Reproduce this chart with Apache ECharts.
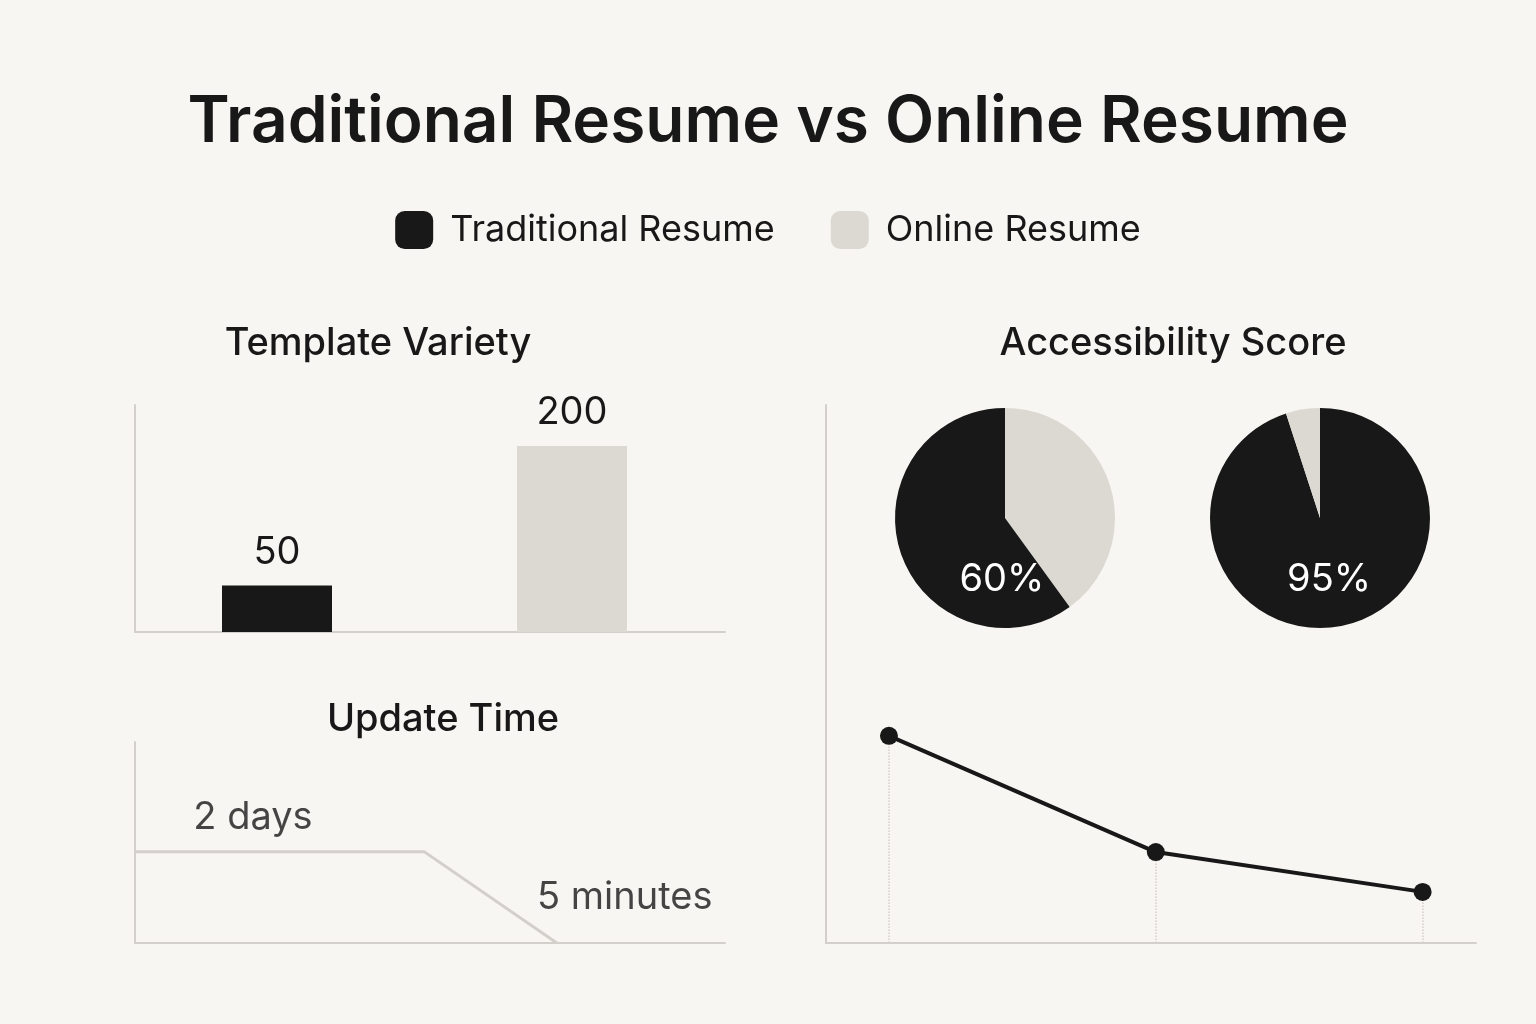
<!DOCTYPE html>
<html>
<head>
<meta charset="UTF-8">
<title>Traditional Resume vs Online Resume</title>
<script src="https://cdn.jsdelivr.net/npm/echarts@6/dist/echarts.min.js"></script>
<style>body{margin:0;background:#f8f6f2}</style>
</head>
<body>
<div id="main" style="width:1536px;height:1024px;"></div>
<script type="text/javascript">
var BLACK = '#181818', LIGHT = '#dcd9d3', AXIS = '#d3d0cb';
var FONT = 'Inter';

// data
var templateCats = ['Traditional Resume', 'Online Resume'];
var templateValues = [50, 200];
var updatePoints = [[0, 2], [49, 2], [71.5, 0]];
var updateLabels = ['2 days', '5 minutes'];
var updateLabelPos = [[20, 2.75], [83, 1]];
var accessTraditional = [60, 40];
var accessOnline = [95, 5];
var trendX = [0, 1, 2];
var trendY = [38.5, 16.9, 9.5];

var chart = echarts.init(document.getElementById('main'));

var axisLine = { show: true, onZero: false, lineStyle: { color: AXIS, width: 2 } };
var hidden = { show: false };

chart.setOption({
  backgroundColor: '#f8f6f2',
  textStyle: { fontFamily: FONT },
  title: [
    { text: 'Traditional Resume vs Online Resume', left: 'center', top: 86,
      textStyle: { fontSize: 64, fontWeight: 600, color: BLACK, fontFamily: FONT } },
    { text: 'Template Variety', left: 373, top: 320, textAlign: 'center',
      textStyle: { fontSize: 38, fontWeight: 500, color: BLACK, fontFamily: FONT } },
    { text: 'Update Time', left: 438, top: 696, textAlign: 'center',
      textStyle: { fontSize: 38, fontWeight: 500, color: BLACK, fontFamily: FONT } },
    { text: 'Accessibility Score', left: 1168, top: 320, textAlign: 'center',
      textStyle: { fontSize: 38, fontWeight: 500, color: BLACK, fontFamily: FONT } }
  ],
  legend: {
    top: 206, left: 'center', itemWidth: 38, itemHeight: 38, itemGap: 56,
    data: [{ name: 'Traditional Resume', itemStyle: { color: BLACK, borderRadius: 5 } },
           { name: 'Online Resume', itemStyle: { color: LIGHT, borderRadius: 5 } }],
    textStyle: { fontSize: 36, color: BLACK, fontFamily: FONT, padding: [0, 0, 0, 12] }
  },
  grid: [
    { left: 135, right: 811, top: 405, bottom: 392 },
    { left: 135, right: 811, top: 742, bottom: 81 },
    { left: 826, right: 60, top: 405, bottom: 81 }
  ],
  xAxis: [
    { gridIndex: 0, type: 'category', data: templateCats, axisLine: axisLine,
      axisTick: hidden, axisLabel: hidden },
    { gridIndex: 1, type: 'value', min: 0, max: 100, axisLine: axisLine,
      axisTick: hidden, axisLabel: hidden, splitLine: hidden },
    { gridIndex: 2, type: 'value', min: -0.236, max: 2.2, axisLine: axisLine,
      axisTick: hidden, axisLabel: hidden, splitLine: hidden }
  ],
  yAxis: [
    { gridIndex: 0, type: 'value', min: 0, max: 244, axisLine: axisLine,
      axisTick: hidden, axisLabel: hidden, splitLine: hidden },
    { gridIndex: 1, type: 'value', min: 0, max: 4.4, axisLine: axisLine,
      axisTick: hidden, axisLabel: hidden, splitLine: hidden },
    { gridIndex: 2, type: 'value', min: 0, max: 100, axisLine: axisLine,
      axisTick: hidden, axisLabel: hidden, splitLine: hidden }
  ],
  series: [
    { name: 'Traditional Resume', type: 'bar', xAxisIndex: 0, yAxisIndex: 0, barWidth: 110,
      data: templateValues.map(function (v, i) {
        return { value: v, itemStyle: { color: i === 0 ? BLACK : LIGHT } };
      }),
      label: { show: true, position: 'top', distance: 14, fontSize: 38, color: BLACK, fontFamily: FONT }
    },
    { name: 'Online Resume', type: 'bar', xAxisIndex: 0, yAxisIndex: 0, data: [], itemStyle: { color: LIGHT } },
    { type: 'line', xAxisIndex: 1, yAxisIndex: 1, symbol: 'none',
      lineStyle: { color: AXIS, width: 3 }, data: updatePoints },
    { type: 'scatter', xAxisIndex: 1, yAxisIndex: 1, symbolSize: 1, silent: true,
      itemStyle: { color: 'rgba(0,0,0,0)' },
      data: updateLabelPos.map(function (p, i) {
        return { value: p, label: { show: true, position: 'inside', formatter: updateLabels[i],
          fontSize: 38, color: BLACK, fontFamily: FONT } };
      })
    },
    { type: 'pie', center: [1005, 518], radius: 110, startAngle: 90, clockwise: true,
      label: { show: false }, labelLine: { show: false }, silent: true,
      data: [
        { value: accessTraditional[1], itemStyle: { color: LIGHT } },
        { value: accessTraditional[0], itemStyle: { color: BLACK },
          label: { show: true, position: 'inside', formatter: accessTraditional[0] + '%',
            offset: [52, 44], fontSize: 38, color: '#fff', fontFamily: FONT } }
      ]
    },
    { type: 'pie', center: [1320, 518], radius: 110, startAngle: 90, clockwise: true,
      label: { show: false }, labelLine: { show: false }, silent: true,
      data: [
        { value: accessOnline[0], itemStyle: { color: BLACK },
          label: { show: true, position: 'inside', formatter: accessOnline[0] + '%',
            offset: [0, 4], fontSize: 38, color: '#fff', fontFamily: FONT } },
        { value: accessOnline[1], itemStyle: { color: LIGHT } }
      ]
    },
    { type: 'line', xAxisIndex: 2, yAxisIndex: 2, symbol: 'circle', symbolSize: 18, z: 5,
      itemStyle: { color: BLACK }, lineStyle: { color: BLACK, width: 4 },
      data: trendX.map(function (x, i) { return [x, trendY[i]]; }),
      markLine: { silent: true, symbol: 'none', label: hidden, z: 1,
        lineStyle: { color: AXIS, type: 'dotted', width: 1.5 },
        data: trendX.map(function (x, i) { return [{ coord: [x, 0] }, { coord: [x, trendY[i]] }]; })
      }
    }
  ]
});
</script>
</body>
</html>
